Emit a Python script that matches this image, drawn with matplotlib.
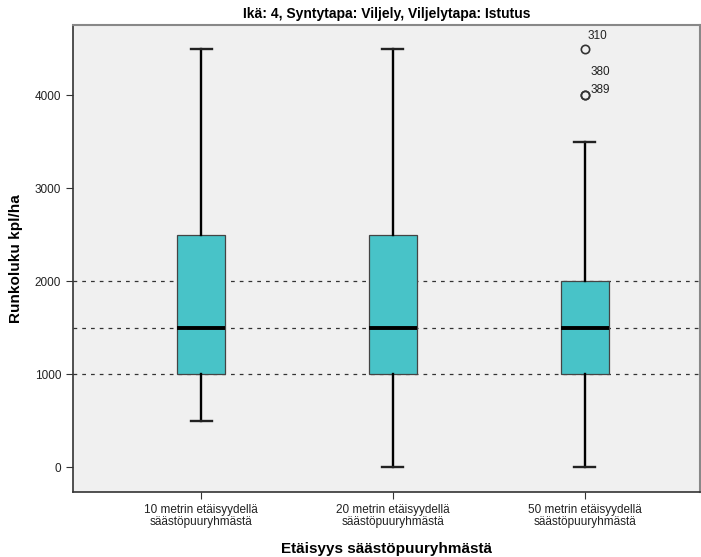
import matplotlib.pyplot as plt

# values
categories = ["10 metrin etäisyydellä\nsäästöpuuryhmästä",
              "20 metrin etäisyydellä\nsäästöpuuryhmästä",
              "50 metrin etäisyydellä\nsäästöpuuryhmästä"]
whislo = [500, 0, 0]
q1 = [1000, 1000, 1000]
med = [1500, 1500, 1500]
q3 = [2500, 2500, 2000]
whishi = [4500, 4500, 3500]
outliers = [[], [], [4500, 4000, 4000]]
outlier_ids = [[], [], ["310", "380", "389"]]
ref_lines = [1000, 1500, 2000]

plt.rcParams['font.family'] = ['Liberation Sans', 'DejaVu Sans']

fig = plt.figure(figsize=(7.01, 5.57), dpi=100)
fig.patch.set_facecolor('white')
ax = fig.add_axes([0.104, 0.117, 0.894, 0.838])
ax.set_facecolor('#f0f0f0')

stats = []
for i in range(len(categories)):
    stats.append(dict(whislo=whislo[i], q1=q1[i], med=med[i], q3=q3[i],
                      whishi=whishi[i], fliers=outliers[i]))

positions = [1, 2, 3]
for y in ref_lines:
    ax.axhline(y, color='#333333', linestyle=(0, (3, 4)), linewidth=0.9, zorder=1)

ax.bxp(stats, positions=positions, widths=0.25, patch_artist=True,
       boxprops=dict(facecolor='#48c3c8', edgecolor='#444444', linewidth=0.9),
       medianprops=dict(color='black', linewidth=2.8),
       whiskerprops=dict(color='black', linewidth=1.7),
       capprops=dict(color='#222222', linewidth=1.7),
       capwidths=0.11,
       flierprops=dict(marker='o', markerfacecolor='none', markeredgecolor='#333333',
                       markersize=6, markeredgewidth=1.2),
       zorder=3)

# outlier case labels (SPSS style): a lone one sits above its marker,
# when several share a value they stack upward, the last one next to the marker
for i in range(len(categories)):
    vals = outliers[i]
    for k, (v, lab) in enumerate(zip(vals, outlier_ids[i])):
        n_same = vals.count(v)
        later = sum(1 for w in vals[k + 1:] if w == v)
        if n_same == 1:
            off = (2, 9)
        else:
            off = (4, 3.5 + 13 * later)
        ax.annotate(lab, (positions[i], v), xytext=off, textcoords='offset points',
                    fontsize=8.5, color='#222222', va='center', ha='left')

ax.set_xlim(0.33, 3.6)
ax.set_ylim(-266, 4753)
ax.set_xticks(positions)
ax.set_xticklabels(categories, fontsize=8.5, linespacing=1.0)
ax.set_yticks([0, 1000, 2000, 3000, 4000])
ax.tick_params(axis='both', labelsize=8.5, length=5, color='#333333', labelcolor='#222222')

for side in ['left', 'bottom']:
    ax.spines[side].set_color('#333333')
    ax.spines[side].set_linewidth(1.2)
for side in ['top', 'right']:
    ax.spines[side].set_color('#888888')
    ax.spines[side].set_linewidth(1.5)

ax.set_ylabel("Runkoluku kpl/ha", fontsize=11, fontweight='bold', labelpad=8)
ax.set_xlabel("Etäisyys säästöpuuryhmästä", fontsize=11, fontweight='bold', labelpad=10)
ax.set_title("Ikä: 4, Syntytapa: Viljely, Viljelytapa: Istutus",
             fontsize=10, fontweight='bold', family=['Liberation Sans Narrow', 'Liberation Sans'],
             pad=5)

fig.savefig("out.png", dpi=100)
